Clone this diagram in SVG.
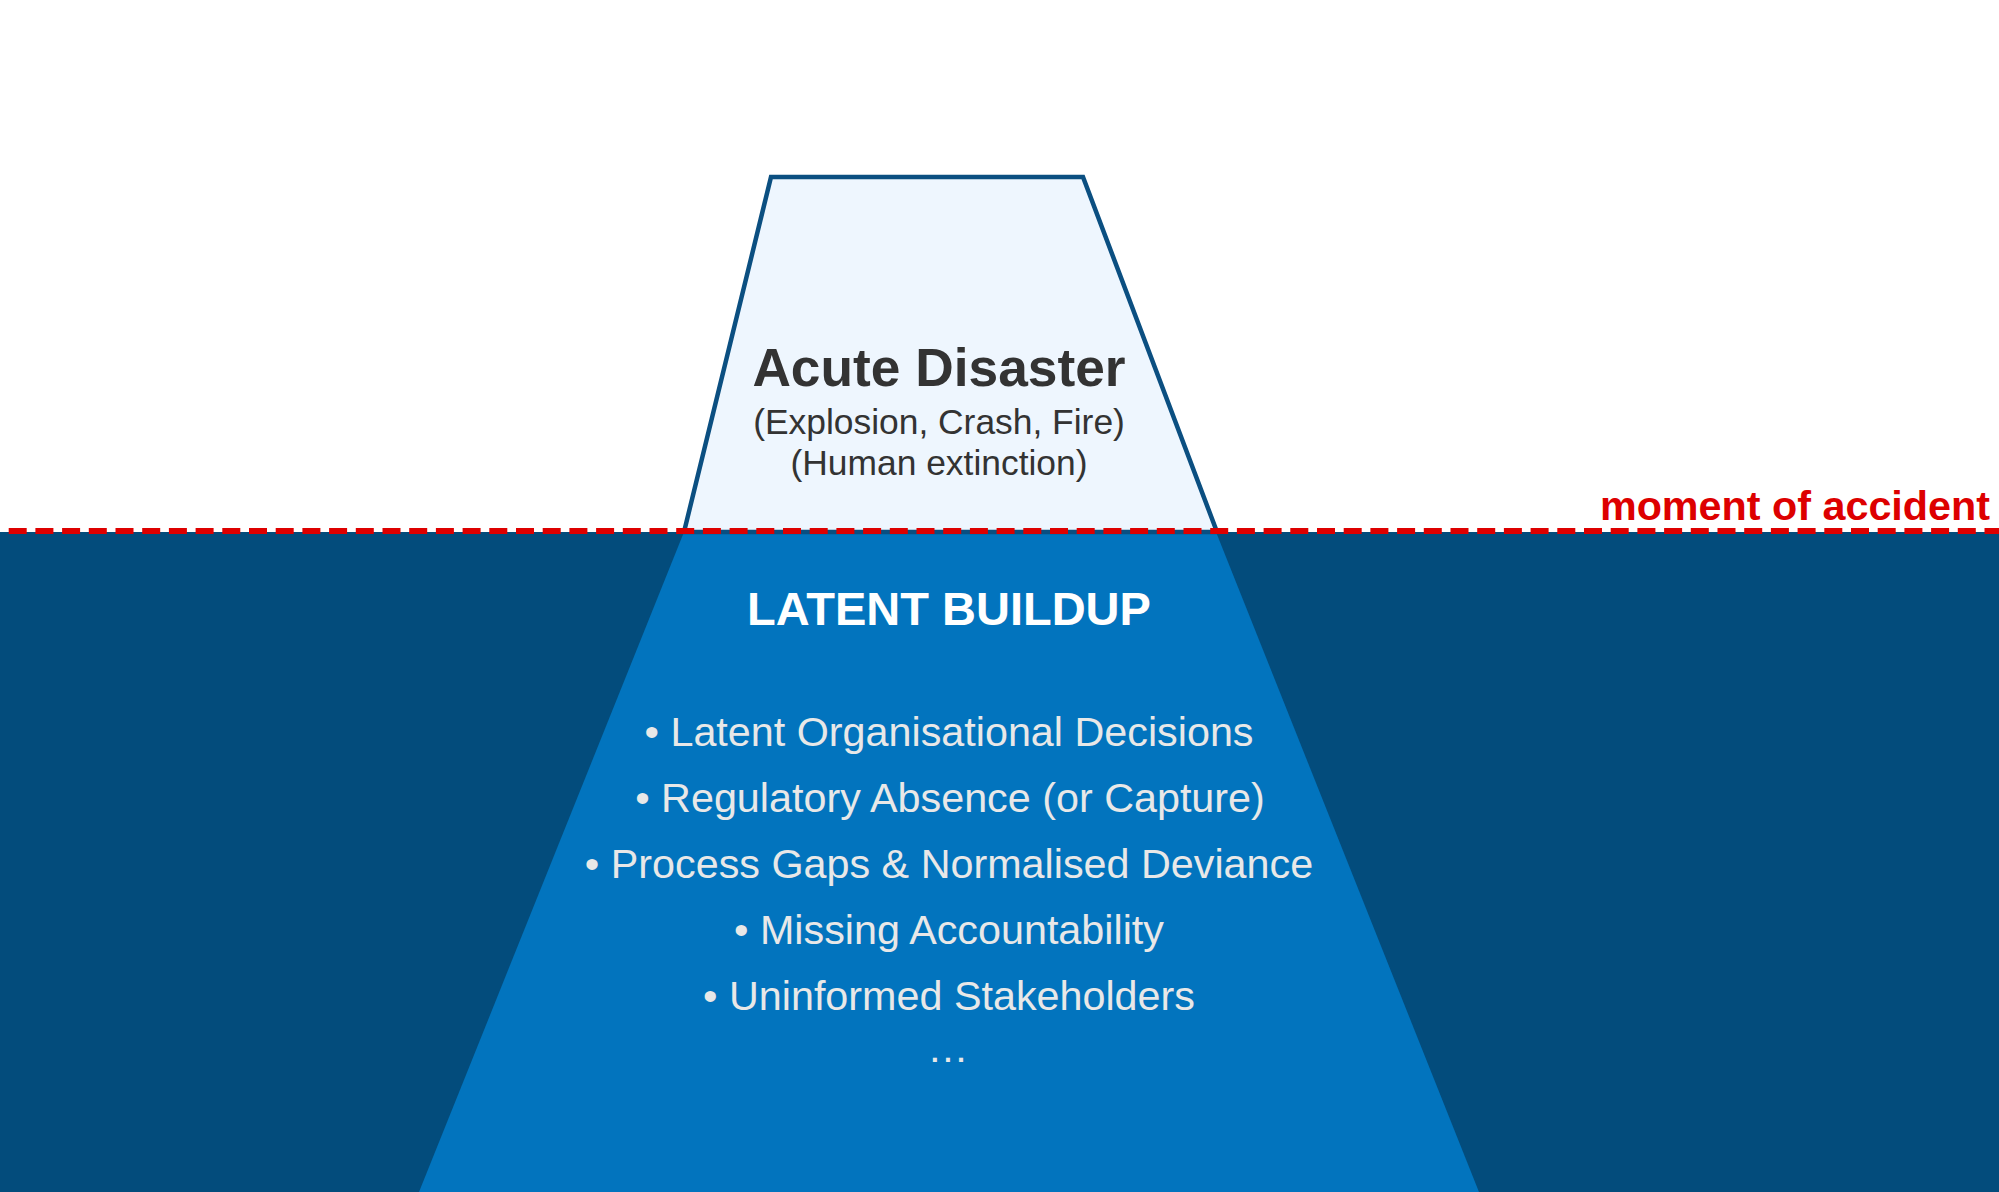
<svg xmlns="http://www.w3.org/2000/svg" width="1999" height="1192" viewBox="0 0 1999 1192">
  <style>
    .title { font-family: "Liberation Sans", Arial, sans-serif; font-weight: bold; text-anchor: middle; }
    .sub { font-family: "Liberation Sans", Arial, sans-serif; font-size: 35.4px; fill: #333333; text-anchor: middle; }
    .bullet { font-family: "Liberation Sans", Arial, sans-serif; font-size: 41.3px; fill: #E8E8E8; text-anchor: middle; }
  </style>
  <rect x="0" y="0" width="1999" height="1192" fill="#FFFFFF"/>
  <g id="water">
    <rect x="0" y="532" width="1999" height="660" fill="#034C7C"/>
  </g>
  <g id="latent-buildup">
    <polygon points="684,532 1216,532 1479,1192 419,1192" fill="#0274BE"/>
    <text class="title" x="949" y="625" font-size="47" fill="#FFFFFF">LATENT BUILDUP</text>
    <text class="bullet" x="949" y="746">• Latent Organisational Decisions</text>
    <text class="bullet" x="950" y="812">• Regulatory Absence (or Capture)</text>
    <text class="bullet" x="949" y="878">• Process Gaps &amp; Normalised Deviance</text>
    <text class="bullet" x="949" y="944">• Missing Accountability</text>
    <text class="bullet" x="949" y="1010">• Uninformed Stakeholders</text>
    <text class="bullet" x="948" y="1062">…</text>
  </g>
  <g id="acute-disaster">
    <polygon points="771,177 1083,177 1217,532 684,532" fill="#EEF6FE" stroke="#0B4F81" stroke-width="4.5" stroke-linejoin="miter"/>
    <text class="title" x="939" y="386" font-size="53.3" fill="#333333">Acute Disaster</text>
    <text class="sub" x="939" y="434">(Explosion, Crash, Fire)</text>
    <text class="sub" x="939" y="475">(Human extinction)</text>
  </g>
  <g id="connectors">
    <line x1="0" y1="531" x2="1999" y2="531" stroke="#DD0000" stroke-width="6" stroke-dasharray="18 8.7" stroke-dashoffset="18"/>
  </g>
  <g id="moment-label">
    <text class="title" x="1990" y="520" font-size="41.3" fill="#DD0000" style="text-anchor:end">moment of accident</text>
  </g>
</svg>
